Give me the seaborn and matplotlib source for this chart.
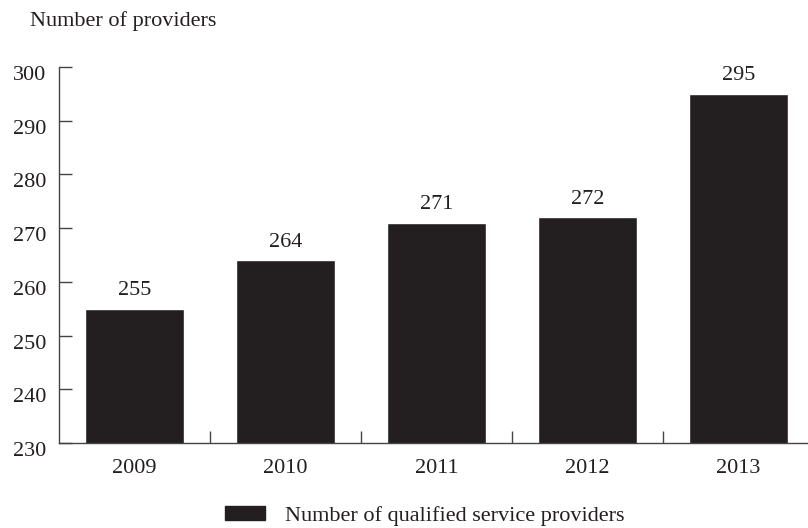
import matplotlib
matplotlib.use("Agg")
import matplotlib.pyplot as plt
from matplotlib.patches import Patch
from matplotlib.transforms import ScaledTranslation
import seaborn as sns
import pandas as pd

years = ["2009", "2010", "2011", "2012", "2013"]
providers = [255, 264, 271, 272, 295]
y_ticks = [230, 240, 250, 260, 270, 280, 290, 300]
series_name = "Number of qualified service providers"
y_title = "Number of providers"

sns.set_theme(style="white")
plt.rcParams["font.family"] = ["Liberation Serif", "DejaVu Serif"]
bar_color = "#231f20"
text_color = "#231f20"
fs = 16

df = pd.DataFrame({"year": years, "providers": providers})

fig = plt.figure(figsize=(8.08, 5.28), dpi=100)
ax = fig.add_axes([59 / 808, 1 - 443 / 528, 1 - 59 / 808, (443 - 67) / 528])

sns.barplot(data=df, x="year", y="providers", color=bar_color, width=0.65,
            saturation=1, ax=ax)

ax.set_ylim(230, 300)
ax.set_xlim(-0.5, 4.46)
ax.set_yticks(y_ticks)
ax.set_xticks([0.5, 1.5, 2.5, 3.5])
ax.set_xticklabels([])
ax.tick_params(axis="y", direction="in", length=9, width=1, colors="#444444",
               labelcolor=text_color, labelsize=fs, pad=9, left=True)
ax.tick_params(axis="x", direction="in", length=9, width=1, colors="#444444",
               bottom=True)
ax.set_xlabel("")
ax.set_ylabel("")

# value labels on the y axis sit a little below their ticks
shift = ScaledTranslation(0, -6 / 100, fig.dpi_scale_trans)
for lab in ax.get_yticklabels():
    lab.set_transform(lab.get_transform() + shift)

# category labels sit centred under each bar, while the x ticks mark the gaps
for i, y in enumerate(years):
    ax.annotate(y, xy=(i, 230), xycoords="data", xytext=(0, -18.5),
                textcoords="offset points", ha="center", va="center",
                fontsize=fs, color=text_color, annotation_clip=False)

for i, v in enumerate(providers):
    ax.annotate(f"{v}", xy=(i, v), xycoords="data", xytext=(0, 13),
                textcoords="offset points", ha="center", va="center",
                fontsize=fs, color=text_color, annotation_clip=False)

sns.despine(ax=ax, top=True, right=True)
for side in ("left", "bottom"):
    ax.spines[side].set_color("#444444")
    ax.spines[side].set_linewidth(1)

fig.text(30 / 808, 1 - 21 / 528, y_title, ha="left", va="center",
         fontsize=fs, color=text_color)

handle = Patch(facecolor=bar_color, edgecolor=bar_color)
fig.legend([handle], [series_name], loc="center left",
           bbox_to_anchor=(225 / 808, 1 - 516 / 528), borderpad=0,
           borderaxespad=0, frameon=False, fontsize=fs, handlelength=1.8,
           handleheight=0.55, handletextpad=0.9, labelcolor=text_color)

fig.savefig("out.png", dpi=100)
